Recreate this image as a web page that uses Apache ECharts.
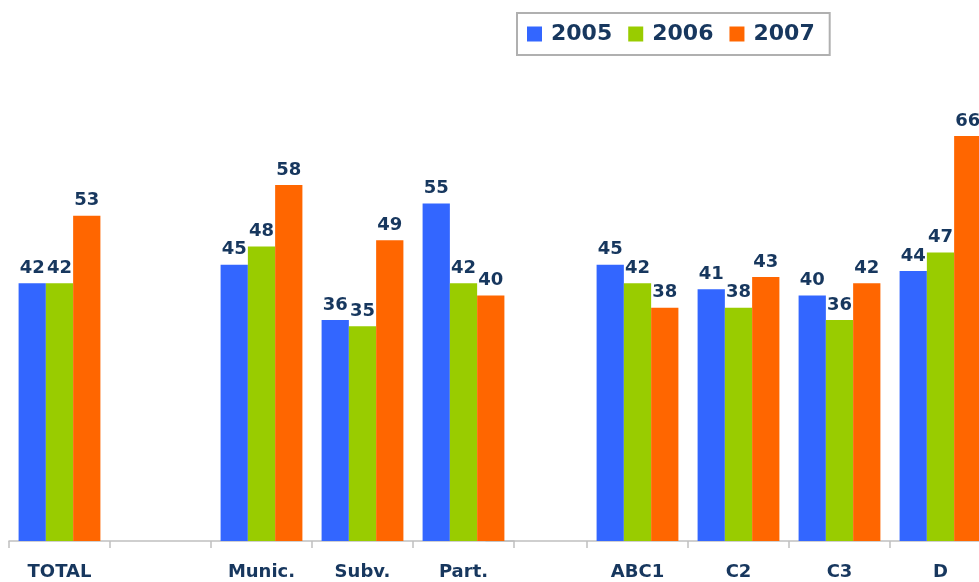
<!DOCTYPE html>
<html>
<head>
<meta charset="utf-8">
<script src="https://cdn.jsdelivr.net/npm/echarts@6/dist/echarts.min.js"></script>
<style>
  html, body { margin: 0; padding: 0; background: #fff; overflow: hidden; }
  /* wider than the window: the right-hand group is cut at the edge */
  #chart { width: 992px; height: 582px; }
</style>
</head>
<body>
<div id="chart"></div>
<script>
// two groups of categories, each with a blank slot
var categoriesLeft = ['TOTAL', '', 'Munic.', 'Subv.', 'Part.'];
var categoriesRight = ['', 'ABC1', 'C2', 'C3', 'D'];
var years = ['2005', '2006', '2007'];

var left2005 = [42, '-', 45, 36, 55];
var left2006 = [42, '-', 48, 35, 42];
var left2007 = [53, '-', 58, 49, 40];

var right2005 = ['-', 45, 41, 40, 44];
var right2006 = ['-', 42, 38, 36, 47];
var right2007 = ['-', 38, 43, 42, 66];

var colors = ['#3366FF', '#99CC00', '#FF6600'];
var textColor = '#17375E';

var myChart = echarts.init(document.getElementById('chart'));

function makeSeries(name, data, idx, color) {
  return {
    name: name,
    type: 'bar',
    xAxisIndex: idx,
    yAxisIndex: idx,
    data: data,
    barGap: '0%',
    barCategoryGap: '19%',
    itemStyle: { color: color },
    label: {
      show: true,
      position: 'top',
      distance: 6,
      color: textColor,
      fontFamily: 'DejaVu Sans',
      fontWeight: 'bold',
      fontSize: 18
    }
  };
}

function makeXAxis(cats, idx, skipFirstTick) {
  return {
    type: 'category',
    gridIndex: idx,
    data: cats,
    axisLine: { show: true, lineStyle: { color: '#c0c0c0', width: 1.5 } },
    axisTick: {
      show: true,
      length: 7,
      interval: function (i) { return !(skipFirstTick && i === 0); },
      lineStyle: { color: '#c0c0c0', width: 1.5 }
    },
    axisLabel: {
      margin: 22,
      color: textColor,
      fontFamily: 'DejaVu Sans',
      fontWeight: 'bold',
      fontSize: 18
    }
  };
}

function makeYAxis(idx) {
  return {
    type: 'value',
    gridIndex: idx,
    min: 0,
    max: 80,
    show: false,
    splitLine: { show: false }
  };
}

myChart.setOption({
  animation: false,
  color: colors,
  legend: {
    data: years,
    left: 517,
    top: 13,
    padding: [10, 15, 10, 10],
    borderColor: '#b0b0b0',
    borderWidth: 2,
    itemWidth: 15,
    itemHeight: 15,
    itemGap: 16,
    icon: 'rect',
    textStyle: {
      color: textColor,
      fontFamily: 'DejaVu Sans',
      fontWeight: 'bold',
      fontSize: 22,
      padding: [0, 0, 0, 4]
    }
  },
  grid: [
    { left: 9, width: 505, top: 50, bottom: 41 },
    { left: 486, width: 505, top: 50, bottom: 41 }
  ],
  xAxis: [makeXAxis(categoriesLeft, 0, false), makeXAxis(categoriesRight, 1, true)],
  yAxis: [makeYAxis(0), makeYAxis(1)],
  series: [
    makeSeries(years[0], left2005, 0, colors[0]),
    makeSeries(years[1], left2006, 0, colors[1]),
    makeSeries(years[2], left2007, 0, colors[2]),
    makeSeries(years[0], right2005, 1, colors[0]),
    makeSeries(years[1], right2006, 1, colors[1]),
    makeSeries(years[2], right2007, 1, colors[2])
  ]
});
</script>
</body>
</html>
